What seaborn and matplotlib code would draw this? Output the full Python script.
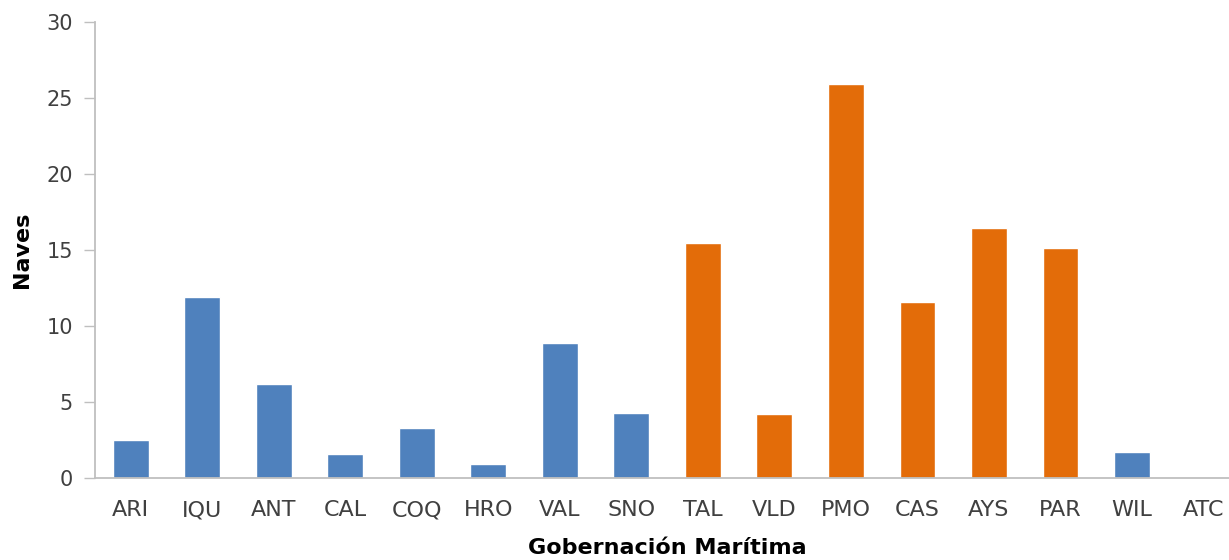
import pandas as pd
import seaborn as sns
import matplotlib.pyplot as plt

# Naves por Gobernación Marítima
gobernaciones = ['ARI', 'IQU', 'ANT', 'CAL', 'COQ', 'HRO', 'VAL', 'SNO',
                 'TAL', 'VLD', 'PMO', 'CAS', 'AYS', 'PAR', 'WIL', 'ATC']
naves = [2.5, 11.9, 6.2, 1.6, 3.3, 0.9, 8.9, 4.3,
         15.45, 4.2, 25.95, 11.6, 16.45, 15.1, 1.7, 0]
grupo = ['norte'] * 8 + ['sur'] * 6 + ['norte'] * 2

colores = {'norte': '#4F81BD', 'sur': '#E36C09'}

df = pd.DataFrame({'gob': gobernaciones, 'naves': naves, 'grupo': grupo})

sns.set_style('white')
plt.rcParams['font.family'] = ['DejaVu Sans']

fig = plt.figure(figsize=(12.29, 5.60), dpi=100)
ax = fig.add_axes([0.0773, 0.1464, 0.931, 0.8143])

sns.barplot(data=df, x='gob', y='naves', hue='grupo', palette=colores,
            dodge=False, width=0.5, saturation=1, legend=False, ax=ax)

ax.set_ylim(0, 30)
ax.set_yticks(range(0, 31, 5))
ax.set_xlim(-0.5, len(gobernaciones) - 0.5)

ax.tick_params(axis='y', length=8, width=1, color='#BFBFBF', labelsize=15,
               labelcolor='#404040', pad=8, left=True)
ax.tick_params(axis='x', length=0, labelsize=16, labelcolor='#404040', pad=16)

for s in ['top', 'right']:
    ax.spines[s].set_visible(False)
for s in ['left', 'bottom']:
    ax.spines[s].set_color('#BFBFBF')
    ax.spines[s].set_linewidth(1.3)

ax.set_ylabel('Naves', fontsize=16, fontweight='bold', color='black', labelpad=10)
ax.set_xlabel('Gobernación Marítima', fontsize=16, fontweight='bold',
              color='black', labelpad=13)

fig.savefig('out.png', dpi=100)
